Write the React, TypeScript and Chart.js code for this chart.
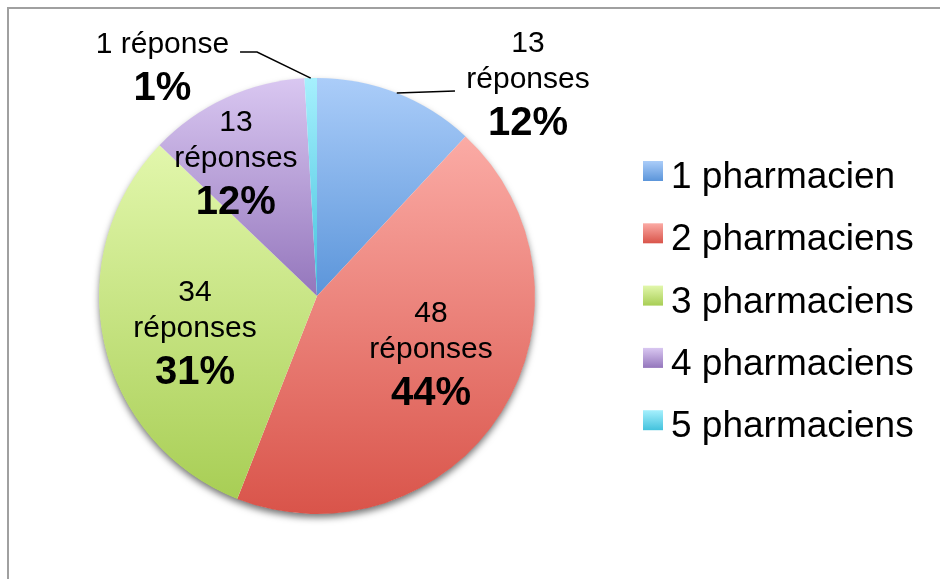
import React, { useEffect, useRef } from "react";
import { Chart, registerables } from "chart.js";

Chart.register(...registerables);

// ---- data ----
const categories = ["1 pharmacien", "2 pharmaciens", "3 pharmaciens", "4 pharmaciens", "5 pharmaciens"];
const responses = [13, 48, 34, 13, 1];
const gradientTop = ["#abcdf9", "#fbaba5", "#e2f7ac", "#d9c7f1", "#a6f0fd"];
const gradientBottom = ["#5b95da", "#d9544a", "#a8ce55", "#9476bc", "#43c2dd"];

// ---- label layout (in units of pie radius, relative to centre) ----
const labelAnchors = [
  { dx: 0.968, dy: -0.954, leader: [[0.633, -0.94]] },
  { dx: 0.523, dy: 0.284 },
  { dx: -0.56, dy: 0.188 },
  { dx: -0.372, dy: -0.592 },
  { dx: -0.709, dy: -1.115, leader: [[-0.275, -1.119], [-0.353, -1.119]] },
];

const FONT = "'Liberation Sans', Arial, sans-serif";

function sliceRangeY(values: number[], index: number, cx: number, cy: number, r: number) {
  const total = values.reduce((a, b) => a + b, 0);
  let cum = 0;
  for (let i = 0; i < index; i++) cum += values[i];
  const a0 = -Math.PI / 2 + (cum / total) * Math.PI * 2;
  const a1 = -Math.PI / 2 + ((cum + values[index]) / total) * Math.PI * 2;
  const ys = [cy, cy + r * Math.sin(a0), cy + r * Math.sin(a1)];
  const contains = (a: number) => {
    for (let k = -2; k <= 2; k++) {
      const t = a + k * Math.PI * 2;
      if (t >= a0 && t <= a1) return true;
    }
    return false;
  };
  if (contains(-Math.PI / 2)) ys.push(cy - r);
  if (contains(Math.PI / 2)) ys.push(cy + r);
  return [Math.min(...ys), Math.max(...ys)];
}

const decorPlugin = {
  id: "decor",
  beforeDatasetsDraw(chart: any) {
    const meta = chart.getDatasetMeta(0);
    const arc = meta.data[0];
    if (!arc) return;
    const { x, y, outerRadius } = arc;
    const ctx = chart.ctx;
    ctx.save();
    ctx.shadowColor = "rgba(0,0,0,0.55)";
    ctx.shadowBlur = 7;
    ctx.shadowOffsetX = 0;
    ctx.shadowOffsetY = 4;
    ctx.fillStyle = "#ffffff";
    ctx.beginPath();
    ctx.arc(x, y, outerRadius - 0.5, 0, Math.PI * 2);
    ctx.fill();
    ctx.restore();
  },
  afterDraw(chart: any) {
    const ctx = chart.ctx;
    const meta = chart.getDatasetMeta(0);
    const values: number[] = chart.data.datasets[0].data;
    const total = values.reduce((a, b) => a + b, 0);
    ctx.save();
    ctx.fillStyle = "#000";
    ctx.strokeStyle = "#000";
    ctx.textAlign = "center";
    ctx.textBaseline = "alphabetic";
    meta.data.forEach((el: any, i: number) => {
      const { x: cx, y: cy, outerRadius: r, startAngle, endAngle } = el;
      const anchor = labelAnchors[i];
      const ax = cx + anchor.dx * r;
      const ay = cy + anchor.dy * r;
      const v = values[i];
      const pct = Math.round((v / total) * 100) + "%";
      if (v === 1) {
        ctx.font = `30px ${FONT}`;
        ctx.fillText(`${v} réponse`, ax, ay);
        ctx.font = `bold 40px ${FONT}`;
        ctx.fillText(pct, ax, ay + 47);
      } else {
        ctx.font = `30px ${FONT}`;
        ctx.fillText(`${v}`, ax, ay - 36);
        ctx.fillText("réponses", ax, ay);
        ctx.font = `bold 40px ${FONT}`;
        ctx.fillText(pct, ax, ay + 47);
      }
      if (anchor.leader) {
        const mid = (startAngle + endAngle) / 2;
        ctx.lineWidth = 1.5;
        ctx.beginPath();
        ctx.moveTo(cx + r * Math.cos(mid), cy + r * Math.sin(mid));
        anchor.leader.forEach((p) => ctx.lineTo(cx + p[0] * r, cy + p[1] * r));
        ctx.stroke();
      }
    });

    // legend
    const lx = 643;
    const ly0 = 161;
    const step = 62.3;
    categories.forEach((lab, i) => {
      const top = ly0 + i * step;
      const g = ctx.createLinearGradient(0, top, 0, top + 20);
      g.addColorStop(0, gradientTop[i]);
      g.addColorStop(1, gradientBottom[i]);
      ctx.fillStyle = g;
      ctx.fillRect(lx, top, 20, 20);
      ctx.fillStyle = "#000";
      ctx.textAlign = "left";
      ctx.font = `37px ${FONT}`;
      ctx.fillText(lab, lx + 28, top + 27);
    });
    ctx.restore();
  },
};

export default function App() {
  const ref = useRef<HTMLCanvasElement>(null);
  useEffect(() => {
    if (!ref.current) return;
    const chart = new Chart(ref.current, {
      type: "pie",
      data: {
        labels: categories,
        datasets: [
          {
            data: responses,
            borderWidth: 0,
            hoverOffset: 0,
            backgroundColor: (context: any) => {
              const c = context.chart;
              const area = c.chartArea;
              const i = context.dataIndex;
              if (!area || i === undefined) return gradientTop[i ?? 0];
              const cx = (area.left + area.right) / 2;
              const cy = (area.top + area.bottom) / 2;
              const r = Math.min(area.right - area.left, area.bottom - area.top) / 2;
              const [y0, y1] = sliceRangeY(c.data.datasets[0].data, i, cx, cy, r);
              const g = c.ctx.createLinearGradient(0, y0, 0, y1);
              g.addColorStop(0, gradientTop[i]);
              g.addColorStop(1, gradientBottom[i]);
              return g;
            },
          },
        ],
      },
      options: {
        responsive: false,
        animation: false,
        events: [],
        layout: { padding: { left: 99, right: 405, top: 78, bottom: 65 } },
        plugins: { legend: { display: false }, tooltip: { enabled: false } },
      },
      plugins: [decorPlugin],
    });
    return () => chart.destroy();
  }, []);
  return (
    <div style={{ position: "fixed", left: 0, top: 0, width: 940, height: 579, overflow: "hidden", background: "#fff" }}>
      <canvas ref={ref} width={940} height={579} style={{ position: "absolute", left: 0, top: 0, width: 940, height: 579 }} />
      <div
        style={{
          position: "absolute",
          left: 7,
          top: 7,
          width: 1000,
          height: 1000,
          borderLeft: "2px solid #a0a0a0",
          borderTop: "2px solid #a0a0a0",
          pointerEvents: "none",
        }}
      />
    </div>
  );
}
